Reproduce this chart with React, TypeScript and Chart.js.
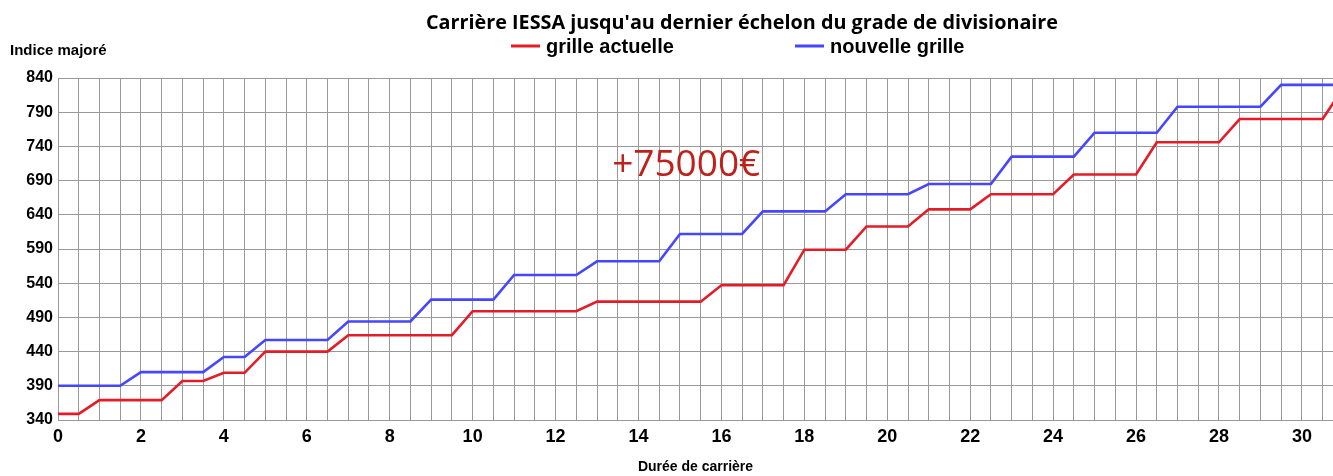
import React, { useEffect, useRef } from 'react';
import { Chart, registerables } from 'chart.js';

Chart.register(...registerables);

const TITLE = "Carrière IESSA jusqu'au dernier échelon du grade de divisionaire";
const Y_TITLE = 'Indice majoré';
const X_TITLE = 'Durée de carrière';
const SERIES_NAMES = ['grille actuelle', 'nouvelle grille'];
const ANNOTATION = '+75000€';
const ANNOTATION_AT = { x: 15.15, y: 712 };

// grille actuelle (red)
const actuelleYears = [0, 0.5, 1, 2.5, 3, 3.5, 4, 4.5, 5, 6.5, 7, 9.5, 10, 12.5, 13, 15.5, 16, 17.5, 18, 19, 19.5, 20.5, 21, 22, 22.5, 24, 24.5, 26, 26.5, 28, 28.5, 30.5, 31];
const actuelleValues = [349, 349, 369, 369, 397, 397, 409, 409, 440, 440, 464, 464, 499, 499, 513, 513, 537, 537, 589, 589, 623, 623, 648, 648, 670, 670, 699, 699, 746, 746, 780, 780, 826];

// nouvelle grille (blue)
const nouvelleYears = [0, 1.5, 2, 3.5, 4, 4.5, 5, 6.5, 7, 8.5, 9, 10.5, 11, 12.5, 13, 14.5, 15, 16.5, 17, 18.5, 19, 20.5, 21, 22.5, 23, 24.5, 25, 26.5, 27, 29, 29.5, 31];
const nouvelleValues = [390, 390, 410, 410, 432, 432, 457, 457, 484, 484, 516, 516, 552, 552, 572, 572, 612, 612, 645, 645, 670, 670, 685, 685, 725, 725, 760, 760, 798, 798, 830, 830];

const X_MIN = 0;
const X_MAX = 30.75;
const X_STEP = 0.5;
const X_LABEL_EVERY = 2;
const Y_MIN = 340;
const Y_MAX = 840;
const Y_STEP = 50;

const X_TICKS: number[] = [];
for (let v = X_MIN; v <= X_MAX + 1e-9; v += X_STEP) X_TICKS.push(v);

const RED = '#e31c28';
const BLUE = '#4646ff';
const GRID = '#999999';
const ANNOT_COLOR = '#c0201a';
const SANS = '"Liberation Sans", Arial, sans-serif';

const textPlugin = {
  id: 'extraTexts',
  afterDraw(chart: any) {
    const ctx = chart.ctx as CanvasRenderingContext2D;
    ctx.save();
    // main title
    ctx.fillStyle = '#000';
    ctx.textBaseline = 'middle';
    ctx.textAlign = 'center';
    ctx.font = 'bold 19.8px "Open Sans", sans-serif';
    ctx.fillText(TITLE, 742, 23);

    // legend
    const legend = [
      { name: SERIES_NAMES[0], color: RED, x0: 511 },
      { name: SERIES_NAMES[1], color: BLUE, x0: 795 },
    ];
    ctx.font = `bold 20px ${SANS}`;
    ctx.textAlign = 'left';
    for (const item of legend) {
      ctx.strokeStyle = item.color;
      ctx.lineWidth = 3;
      ctx.beginPath();
      ctx.moveTo(item.x0, 46);
      ctx.lineTo(item.x0 + 29, 46);
      ctx.stroke();
      ctx.fillStyle = '#000';
      ctx.fillText(item.name, item.x0 + 35, 47);
    }

    // y axis title
    ctx.font = `bold 15px ${SANS}`;
    ctx.textAlign = 'left';
    ctx.fillText(Y_TITLE, 10, 51);

    // annotation
    const xs = chart.scales.x;
    const ys = chart.scales.y;
    ctx.fillStyle = ANNOT_COLOR;
    ctx.textAlign = 'center';
    ctx.font = '37px "Liberation Sans Narrow", "Open Sans", sans-serif';
    ctx.fillText(ANNOTATION, xs.getPixelForValue(ANNOTATION_AT.x), ys.getPixelForValue(ANNOTATION_AT.y));
    ctx.restore();
  },
};

export default function App() {
  const ref = useRef<HTMLCanvasElement | null>(null);

  useEffect(() => {
    document.body.style.margin = '0';
    if (!ref.current) return;
    const chart = new Chart(ref.current, {
      type: 'line',
      data: {
        datasets: [
          {
            label: SERIES_NAMES[0],
            data: actuelleYears.map((x, i) => ({ x, y: actuelleValues[i] })),
            borderColor: RED,
            backgroundColor: RED,
            borderWidth: 2.6,
            pointRadius: 0,
            tension: 0,
          },
          {
            label: SERIES_NAMES[1],
            data: nouvelleYears.map((x, i) => ({ x, y: nouvelleValues[i] })),
            borderColor: BLUE,
            backgroundColor: BLUE,
            borderWidth: 2.6,
            pointRadius: 0,
            tension: 0,
          },
        ],
      },
      options: {
        animation: false,
        responsive: false,
        devicePixelRatio: 1,
        layout: { padding: { top: 78, left: 0, right: 0, bottom: 0 } },
        plugins: {
          legend: { display: false },
          title: { display: false },
          tooltip: { enabled: false },
        },
        scales: {
          x: {
            type: 'linear',
            min: X_MIN,
            max: X_MAX,
            afterBuildTicks(scale: any) {
              scale.ticks = X_TICKS.map((value) => ({ value }));
            },
            ticks: {
              autoSkip: false,
              maxRotation: 0,
              minRotation: 0,
              color: '#000',
              padding: 6,
              font: { family: SANS, weight: 'bold', size: 18 },
              callback: (v: any) => (Number(v) % X_LABEL_EVERY === 0 ? String(v) : ''),
            },
            grid: { color: GRID, drawTicks: false, lineWidth: 1 },
            border: { color: GRID, width: 1 },
            title: {
              display: true,
              text: X_TITLE,
              color: '#000',
              font: { family: SANS, weight: 'bold', size: 14 },
              padding: { top: 0, bottom: 0 },
            },
            afterFit(scale: any) {
              scale.height = 56;
              scale.paddingRight = 0;
              scale.paddingLeft = 0;
            },
          },
          y: {
            type: 'linear',
            min: Y_MIN,
            max: Y_MAX,
            ticks: {
              stepSize: Y_STEP,
              color: '#000',
              padding: 5,
              font: { family: SANS, weight: 'bold', size: 16 },
            },
            grid: { color: GRID, drawTicks: false, lineWidth: 1 },
            border: { color: GRID, width: 1 },
            afterFit(scale: any) {
              scale.width = 58;
            },
          },
        },
      },
      plugins: [textPlugin],
    } as any);
    return () => chart.destroy();
  }, []);

  return (
    <div style={{ width: 1333, height: 476 }}>
      <canvas ref={ref} width={1333} height={476} style={{ display: 'block' }} />
    </div>
  );
}
